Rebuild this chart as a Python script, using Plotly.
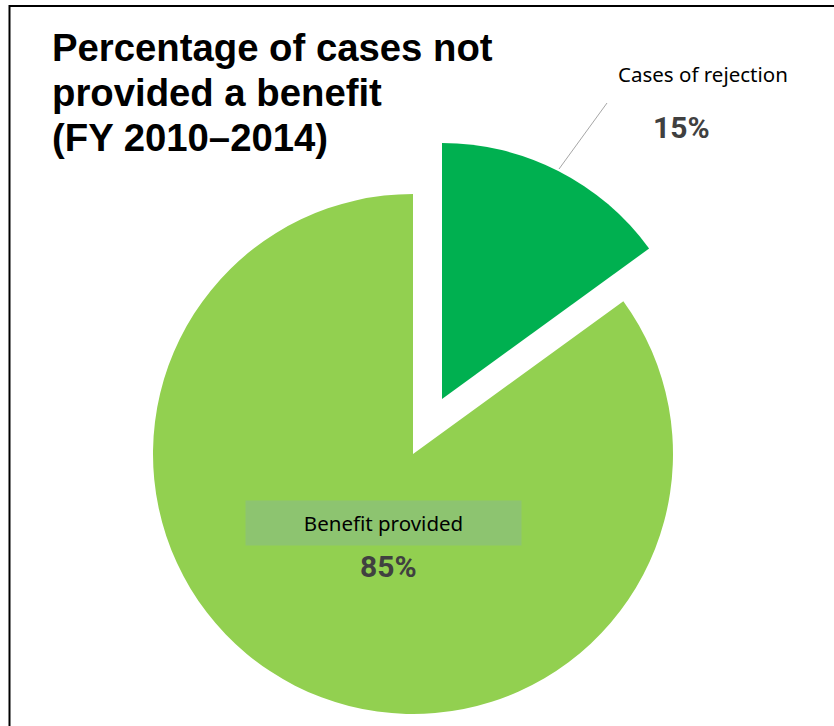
import plotly.graph_objects as go

# ---- data ----
categories = ["Cases of rejection", "Benefit provided"]
values = [15, 85]
colors = ["#00B050", "#92D050"]
title_lines = ["Percentage of cases not", "provided a benefit", "(FY 2010\u20132014)"]

W, H = 834, 726


def px(x):
    return x / W


def py(y):
    return 1 - y / H


fig = go.Figure()

# Main pie (benefit provided slice visible)
fig.add_trace(go.Pie(
    labels=categories, values=values, sort=False, direction="clockwise", rotation=0,
    marker=dict(colors=["rgba(0,0,0,0)", colors[1]], line=dict(width=0)),
    textinfo="none", hoverinfo="label+percent", showlegend=False,
    domain=dict(x=[px(153), px(673)], y=[py(714), py(194)]),
))
# Exploded slice (cases of rejection)
fig.add_trace(go.Pie(
    labels=categories, values=values, sort=False, direction="clockwise", rotation=0,
    marker=dict(colors=[colors[0], "rgba(0,0,0,0)"], line=dict(width=0)),
    textinfo="none", hoverinfo="label+percent", showlegend=False,
    domain=dict(x=[px(186), px(698)], y=[py(655), py(143)]),
))

annotations = []
for i, (line, yc) in enumerate(zip(title_lines, [47.5, 92.5, 137.5])):
    annotations.append(dict(
        text=f"<b>{line}</b>", x=px(50), y=py(yc), xref="paper", yref="paper",
        xanchor="left", yanchor="middle", showarrow=False,
        font=dict(family="Liberation Sans, Arial", size=38.3, color="#000000"),
    ))

# Rejection label
annotations.append(dict(
    text=categories[0], x=px(703), y=py(74), xref="paper", yref="paper",
    xanchor="center", yanchor="middle", showarrow=False,
    font=dict(family="Noto Sans", size=20.5, color="#000000"),
))
annotations.append(dict(
    text=f"{values[0]}%", x=px(681.5), y=py(127), xref="paper", yref="paper",
    xanchor="center", yanchor="middle", showarrow=False,
    font=dict(family="Roboto", size=30, color="#404040", weight="bold"),
))
# Benefit label with box
annotations.append(dict(
    text=categories[1], x=px(383.5), y=py(523), xref="paper", yref="paper",
    xanchor="center", yanchor="middle", showarrow=False,
    width=275, height=44, bgcolor="#8DC470", borderpad=0,
    font=dict(family="Noto Sans", size=20.5, color="#000000"),
))
annotations.append(dict(
    text=f"{values[1]}%", x=px(388), y=py(566), xref="paper", yref="paper",
    xanchor="center", yanchor="middle", showarrow=False,
    font=dict(family="Roboto", size=30, color="#404040", weight="bold"),
))

shapes = [
    # leader line
    dict(type="line", xref="paper", yref="paper", x0=px(559), y0=py(169), x1=px(607), y1=py(103),
         line=dict(color="#A6A6A6", width=1)),
    # frame (left + top)
    dict(type="path", xref="paper", yref="paper",
         path=f"M {px(9.5)} {py(H + 5)} L {px(9.5)} {py(6)} L {px(W + 5)} {py(6)}",
         line=dict(color="#000000", width=2)),
]

fig.update_layout(
    width=W, height=H, margin=dict(l=0, r=0, t=0, b=0),
    paper_bgcolor="white", plot_bgcolor="white",
    annotations=annotations, shapes=shapes,
)

fig.write_html("out.html")
